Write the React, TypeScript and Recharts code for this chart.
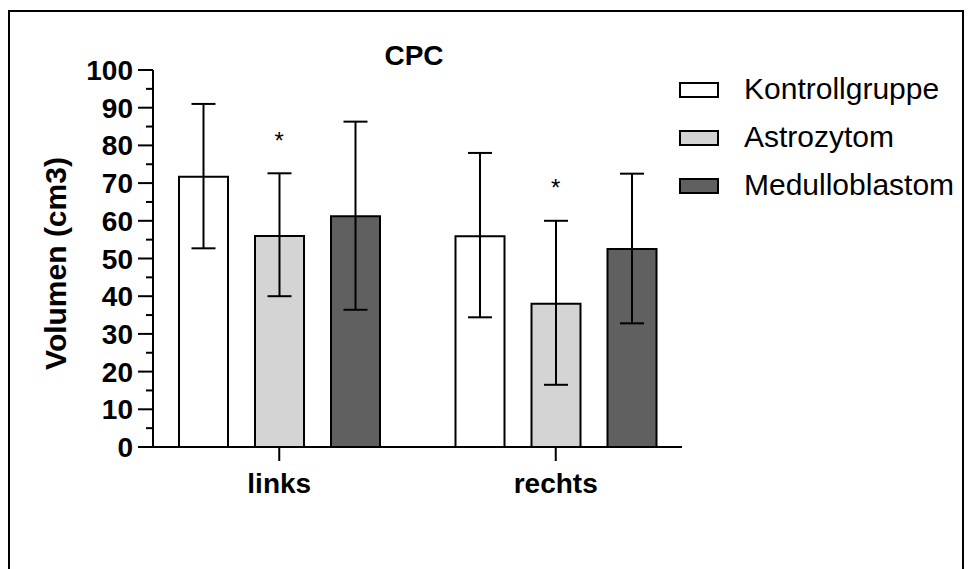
import React from 'react'
import { BarChart, Bar, XAxis, YAxis, ErrorBar, Legend, ReferenceDot } from 'recharts'

const categories = ['links', 'rechts']
const kontrolle = [71.7, 55.9]
const kontrolleLow = [52.7, 34.4]
const kontrolleHigh = [91.0, 78.0]
const astro = [56.0, 38.0]
const astroLow = [40.0, 16.5]
const astroHigh = [72.6, 60.0]
const medullo = [61.2, 52.5]
const medulloLow = [36.4, 32.8]
const medulloHigh = [86.3, 72.5]
const significant = [true, true] // * über Astrozytom
const yTicks = [0, 5, 10, 15, 20, 25, 30, 35, 40, 45, 50, 55, 60, 65, 70, 75, 80, 85, 90, 95, 100]

const series = [
  { key: 'k', name: 'Kontrollgruppe', fill: '#ffffff' },
  { key: 'a', name: 'Astrozytom', fill: '#d4d4d4' },
  { key: 'm', name: 'Medulloblastom', fill: '#606060' },
]

const data = categories.map((cat, i) => ({
  cat,
  k: kontrolle[i],
  kErr: [kontrolle[i] - kontrolleLow[i], kontrolleHigh[i] - kontrolle[i]],
  a: astro[i],
  aErr: [astro[i] - astroLow[i], astroHigh[i] - astro[i]],
  m: medullo[i],
  mErr: [medullo[i] - medulloLow[i], medulloHigh[i] - medullo[i]],
}))

const FONT = '"Liberation Sans", Arial, sans-serif'

const YTick = (props: any) => {
  const { x, y, payload } = props
  const major = payload.value % 10 === 0
  return (
    <g>
      <line x1={major ? x + 5 : x + 13} x2={x + 20} y1={y} y2={y} stroke="#000" strokeWidth={2} />
      {major && (
        <text x={x} y={y} dy="0.36em" textAnchor="end" fontSize={28} fontWeight="bold" fill="#000" fontFamily={FONT}>
          {payload.value}
        </text>
      )}
    </g>
  )
}

const YLabel = (props: any) => {
  const { viewBox } = props
  const cx = viewBox.x + 13
  const cy = viewBox.y + viewBox.height / 2 + 5
  return (
    <text x={cx} y={cy} transform={`rotate(-90, ${cx}, ${cy})`} textAnchor="middle" fontSize={30} fontWeight="bold" fill="#000" fontFamily={FONT}>
      Volumen (cm3)
    </text>
  )
}

const LegendBox = () => (
  <div style={{ fontFamily: FONT }}>
    {series.map(s => (
      <div key={s.key} style={{ display: 'flex', alignItems: 'center', height: 48 }}>
        <span style={{ width: 36, height: 12, border: '2px solid #000', background: s.fill, display: 'inline-block' }} />
        <span style={{ fontSize: 30, marginLeft: 25, marginTop: -3, color: '#000' }}>{s.name}</span>
      </div>
    ))}
  </div>
)

const Star = (props: any) => (
  <text x={props.cx} y={props.cy} dy={13} textAnchor="middle" fontSize={24} fill="#000" fontFamily={FONT}>
    *
  </text>
)

export default function App() {
  return (
    <div style={{ position: 'fixed', left: 8, top: 10, width: 952, height: 600, border: '2px solid #000', background: '#fff', fontFamily: FONT }}>
      <div style={{ position: 'absolute', left: 304, width: 200, top: 28, textAlign: 'center', fontSize: 28, fontWeight: 'bold', lineHeight: 'normal', color: '#000' }}>
        CPC
      </div>
      <BarChart
        width={940}
        height={560}
        data={data}
        margin={{ top: 58, right: 268, bottom: 65, left: 43 }}
        barCategoryGap={38}
        barGap={27}
      >
        <XAxis
          dataKey="cat"
          padding={{ left: -12, right: -12 }}
          height={60}
          tickSize={14}
          tickMargin={12}
          axisLine={{ stroke: '#000', strokeWidth: 2 }}
          tickLine={{ stroke: '#000', strokeWidth: 2 }}
          tick={{ fontSize: 28, fontWeight: 'bold', fill: '#000', fontFamily: FONT }}
        />
        <YAxis
          width={100}
          domain={[0, 100]}
          ticks={yTicks}
          interval={0}
          tickSize={15}
          tickMargin={5}
          tickLine={false}
          axisLine={{ stroke: '#000', strokeWidth: 2 }}
          tick={<YTick />}
          label={<YLabel />}
        />
        {series.map(s => (
          <Bar key={s.key} dataKey={s.key} name={s.name} fill={s.fill} stroke="#000" strokeWidth={2} isAnimationActive={false}>
            <ErrorBar dataKey={s.key + 'Err'} width={12} stroke="#000" strokeWidth={2} direction="y" />
          </Bar>
        ))}
        {categories.map((c, i) =>
          significant[i] ? (
            <ReferenceDot key={c} x={c} y={astroHigh[i] + 10} r={0} shape={<Star />} />
          ) : null
        )}
        <Legend
          layout="vertical"
          align="center"
          verticalAlign="middle"
          width={280}
          wrapperStyle={{ left: 669, top: 54 }}
          content={<LegendBox />}
        />
      </BarChart>
    </div>
  )
}
